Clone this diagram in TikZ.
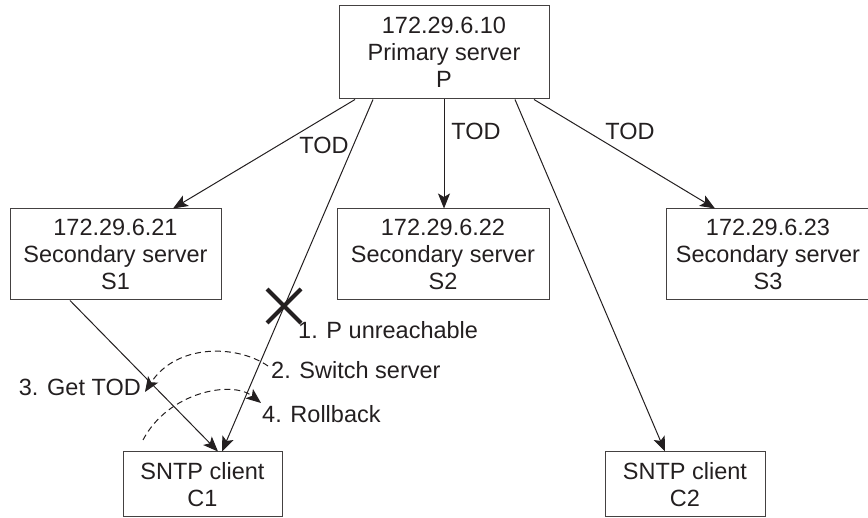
\documentclass[tikz,border=0pt]{standalone}
\usepackage{fontspec}
\setmainfont{Liberation Sans}
\usetikzlibrary{arrows.meta,calc}
\definecolor{ink}{RGB}{35,31,32}
\tikzset{
  box/.style={draw=ink!85, line width=1pt, align=center, inner sep=0pt,
    font=\fontsize{23.5}{27}\selectfont, text=ink},
  lbl/.style={font=\fontsize{23.5}{27}\selectfont, text=ink, inner sep=0pt},
  arr/.style={draw=ink, line width=1pt, -{Stealth[length=15pt,width=12pt,inset=3.5pt]}},
  dsh/.style={draw=ink, line width=1pt, dash pattern=on 6pt off 4pt, -{Stealth[length=15pt,width=12pt,inset=3.5pt]}}
}
\begin{document}
\begin{tikzpicture}[x=1pt,y=-1pt]
\useasboundingbox (0,0) rectangle (868,518);
% boxes
\node[box, minimum width=210pt, minimum height=93pt] (P) at (444,52.5) {172.29.6.10\\Primary server\\P};
\node[box, minimum width=211pt, minimum height=91pt] (S1) at (115.5,254.5) {172.29.6.21\\Secondary server\\S1};
\node[box, minimum width=212pt, minimum height=91pt] (S2) at (443,254.5) {172.29.6.22\\Secondary server\\S2};
\node[box, minimum width=204pt, minimum height=91pt] (S3) at (768,254.5) {172.29.6.23\\Secondary server\\S3};
\node[box, minimum width=159pt, minimum height=65pt] (C1) at (202.5,484.5) {SNTP client\\C1};
\node[box, minimum width=160pt, minimum height=65pt] (C2) at (685,484.5) {SNTP client\\C2};
% connectors from P
\draw[arr] ([xshift=-89pt]P.south) -- ([xshift=57.5pt]S1.north);
\draw[arr] ([xshift=-71pt]P.south) -- ([xshift=19.5pt]C1.north);
\draw[arr] (P.south) -- (P.south |- S2.north);
\draw[arr] ([xshift=71pt]P.south) -- ([xshift=-20pt]C2.north);
\draw[arr] ([xshift=90pt]P.south) -- ([xshift=-53pt]S3.north);
\draw[arr] ([xshift=-45.5pt]S1.south) -- ([xshift=15.5pt]C1.north);
% TOD labels
\node[lbl] (t1) at (324,145) {TOD};
\node[lbl] (t2) at (476,131) {TOD};
\node[lbl] (t3) at (630,131) {TOD};
% X mark
\coordinate (X) at (284,306);
\draw[ink, line width=4pt] ($(X)+(-17,-17)$) -- ($(X)+(17,17)$);
\draw[ink, line width=4pt] ($(X)+(-17,17)$) -- ($(X)+(17,-17)$);
% step labels
\node[lbl, anchor=west] (l1) at (298,330) {1. P unreachable};
\node[lbl, anchor=west] (l2) at (271,370) {2. Switch server};
\node[lbl, anchor=east] (l3) at (141,387) {3. Get TOD};
\node[lbl, anchor=west] (l4) at (262,414) {4. Rollback};
% dashed arcs
\coordinate (a1s) at (268,366);
\coordinate (a1e) at (145,392);
\draw[dsh] (a1s) .. controls (236,344) and (176,344) .. (a1e);
\coordinate (a2s) at (143,440);
\coordinate (a2e) at (261,403);
\draw[dsh] (a2s) .. controls (168,392) and (232,380) .. (a2e);
\end{tikzpicture}
\end{document}
